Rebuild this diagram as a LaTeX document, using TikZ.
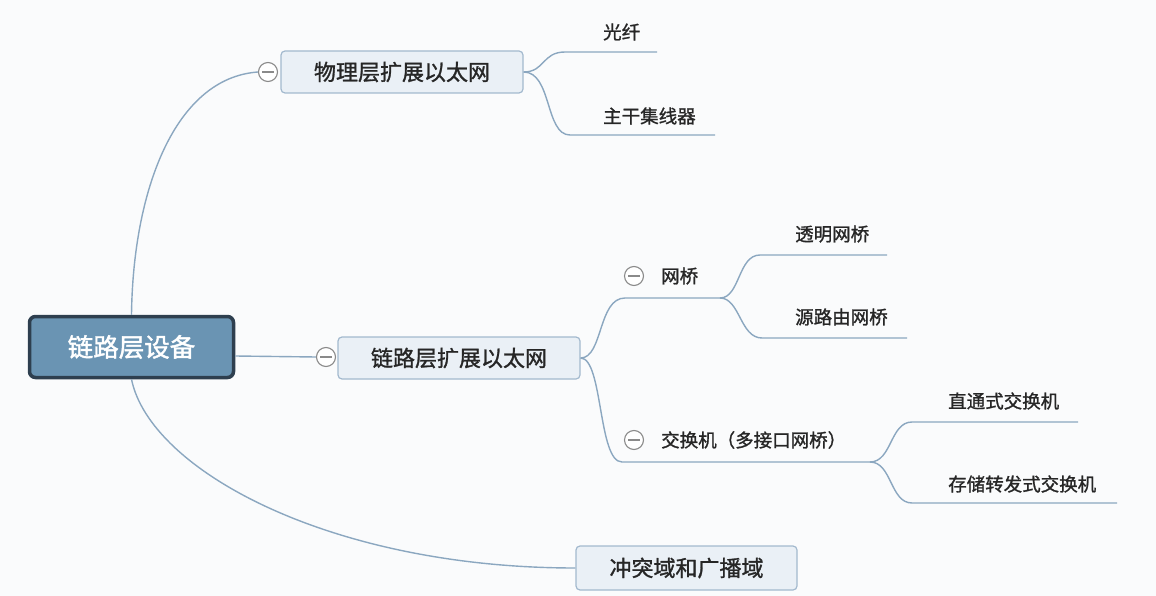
\documentclass[tikz,border=0pt]{standalone}
\usepackage{fontspec}
\newfontfamily\cjk[FakeBold=1.2]{Noto Sans CJK SC}
\newfontfamily\cjkroot[FakeBold=1.6]{Noto Sans CJK SC}
\definecolor{bg}{HTML}{FAFBFC}
\definecolor{link}{HTML}{8BA7C0}
\definecolor{rootfill}{HTML}{6A94B3}
\definecolor{rootdraw}{HTML}{2E3F4F}
\definecolor{subfill}{HTML}{EAF0F6}
\definecolor{subdraw}{HTML}{A3B9CE}
\definecolor{knob}{HTML}{8A8A8A}
\begin{document}
\begin{tikzpicture}[x=1pt,y=-1pt,
  rootbox/.style={draw=rootdraw,line width=3.5pt,fill=rootfill,rounded corners=6pt,
    minimum width=204pt,minimum height=61pt,inner sep=0pt,text=white,font=\cjkroot\fontsize{25.5}{28}\selectfont},
  subbox/.style={draw=subdraw,line width=1.2pt,fill=subfill,rounded corners=4pt,
    minimum height=42pt,inner sep=0pt,text=black!85,font=\cjk\fontsize{22}{25}\selectfont},
  leaf/.style={anchor=west,inner sep=0pt,text=black!85,font=\cjk\fontsize{18.5}{21}\selectfont},
  knobc/.style={circle,draw=knob,fill=white,line width=1.1pt,minimum size=19pt,inner sep=0pt,
    path picture={\draw[knob,line width=1.3pt] ([xshift=-6pt]path picture bounding box.center) -- ([xshift=6pt]path picture bounding box.center);}},
  conn/.style={draw=link,line width=1.4pt}]
\fill[bg] (0,0) rectangle (1156,596);
\useasboundingbox (0,0) rectangle (1156,596);

% main nodes
\node[rootbox] (root) at (131.5,347) {链路层设备};
\node[subbox,minimum width=242pt] (phys) at (402,72) {物理层扩展以太网};
\node[subbox,minimum width=242pt] (link) at (459,358) {链路层扩展以太网};
\node[subbox,minimum width=221pt,minimum height=44pt] (coll) at (686.5,568) {冲突域和广播域};

% knobs
\node[knobc] (k1) at (268,72) {};
\node[knobc] (k2) at (326,357) {};
\node[knobc] (k3) at (634,276) {};
\node[knobc] (k4) at (634,440) {};

% leaf texts
\node[leaf] (fiber) at (603,32) {光纤};
\node[leaf] (hub) at (603,116) {主干集线器};
\node[leaf] (bridge) at (661,276) {网桥};
\node[leaf] (tb) at (795,234) {透明网桥};
\node[leaf] (srb) at (795,317) {源路由网桥};
\node[leaf] (sw) at (661,440) {交换机（多接口网桥）};
\node[leaf] (ct) at (948,401) {直通式交换机};
\node[leaf] (sf) at (948,484) {存储转发式交换机};

% branch coordinates
\coordinate (rootR) at ([yshift=-9pt]root.east);
\coordinate (fiberS) at (565,52);  \coordinate (fiberE) at (657,52);
\coordinate (hubS) at (570,135);   \coordinate (hubE) at (715,135);
\coordinate (brS) at (625,298);    \coordinate (brE) at (720,298);
\coordinate (tbS) at (760,255);    \coordinate (tbE) at (887,255);
\coordinate (srbS) at (762,338);   \coordinate (srbE) at (907,338);
\coordinate (swS) at (622,462);    \coordinate (swE) at (870,462);
\coordinate (ctS) at (912,422);    \coordinate (ctE) at (1078,422);
\coordinate (sfS) at (912,503);    \coordinate (sfE) at (1117,503);

% root connectors
\draw[conn] (root.north) .. controls (133,190) and (175,78) .. (k1.west);
\draw[conn] (rootR) -- (k2.west);
\draw[conn] (root.south) .. controls (150,470) and (330,568) .. (coll.west);

% physical layer children
\draw[conn] (phys.east) .. controls (545,72) and (542,52) .. (fiberS) -- (fiberE);
\draw[conn] (phys.east) .. controls (552,72) and (545,135) .. (hubS) -- (hubE);

% link layer children
\draw[conn] (link.east) .. controls (603,358) and (598,298) .. (brS) -- (brE);
\draw[conn] (link.east) .. controls (603,358) and (598,462) .. (swS) -- (swE);

% bridge children
\draw[conn] (brE) .. controls (740,298) and (738,255) .. (tbS) -- (tbE);
\draw[conn] (brE) .. controls (740,298) and (740,338) .. (srbS) -- (srbE);

% switch children
\draw[conn] (swE) .. controls (892,462) and (890,422) .. (ctS) -- (ctE);
\draw[conn] (swE) .. controls (892,462) and (890,503) .. (sfS) -- (sfE);
\end{tikzpicture}
\end{document}
